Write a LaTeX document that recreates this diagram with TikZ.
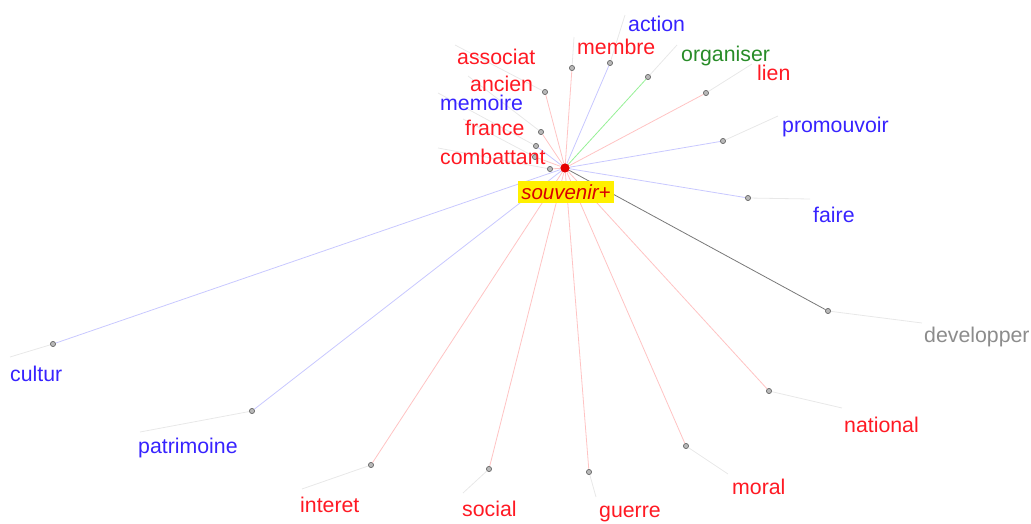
\documentclass[tikz,border=0pt]{standalone}
\usepackage{fontspec}
\setmainfont{Liberation Sans}
\definecolor{lred}{RGB}{255,25,35}
\definecolor{lblue}{RGB}{55,35,255}
\definecolor{lgreen}{RGB}{40,140,40}
\definecolor{lgray}{RGB}{140,140,140}
\definecolor{ered}{RGB}{255,195,195}
\definecolor{eblue}{RGB}{200,200,255}
\definecolor{egreen}{RGB}{150,240,150}
\definecolor{egray}{RGB}{120,120,120}
\definecolor{faint}{RGB}{232,232,232}
\definecolor{hl}{RGB}{255,240,0}
\tikzset{
  pt/.style={circle,inner sep=0pt,minimum size=5pt,fill=gray!55,draw=gray!85!black,line width=0.6pt},
  lab/.style={anchor=west,inner sep=0pt,font=\fontsize{21.3}{22}\selectfont},
  rl/.style={lab,text=lred},
  bl/.style={lab,text=lblue},
  gl/.style={lab,text=lgreen},
  yl/.style={lab,text=lgray},
  er/.style={draw=ered,line width=0.8pt},
  eb/.style={draw=eblue,line width=0.8pt},
  eg/.style={draw=egreen,line width=0.8pt},
  ek/.style={draw=egray,line width=0.8pt},
  ff/.style={draw=faint,line width=0.8pt},
}
\begin{document}
\begin{tikzpicture}[x=1pt,y=-1pt]
\useasboundingbox (0,0) rectangle (1031,524);
% word points
\node[pt] (pmembre) at (572,68) {};
\node[pt] (paction) at (610,63) {};
\node[pt] (porg) at (648,77) {};
\node[pt] (plien) at (706,93) {};
\node[pt] (passoc) at (545,92) {};
\node[pt] (pancien) at (541,132) {};
\node[pt] (pmemoire) at (536,146) {};
\node[pt] (pfrance) at (535,157) {};
\node[pt] (pcomb) at (550,169) {};
\node[pt] (ppromo) at (723,141) {};
\node[pt] (pfaire) at (748,198) {};
\node[pt] (pdev) at (828,311) {};
\node[pt] (pnat) at (769,391) {};
\node[pt] (pmoral) at (686,446) {};
\node[pt] (pguerre) at (589,472) {};
\node[pt] (psocial) at (489,469) {};
\node[pt] (pinteret) at (371,465) {};
\node[pt] (ppatri) at (252,411) {};
\node[pt] (pcultur) at (53,344) {};
% label anchors
\coordinate (cmembre) at (574,37);
\coordinate (caction) at (625,15);
\coordinate (corg) at (677,45);
\coordinate (clien) at (752,64);
\coordinate (cassoc) at (455,45);
\coordinate (cancien) at (468,76);
\coordinate (cmemoire) at (438,93);
\coordinate (cfrance) at (463,119);
\coordinate (ccomb) at (438,148);
\coordinate (cpromo) at (778,116);
\coordinate (cfaire) at (810,199);
\coordinate (cdev) at (922,323);
\coordinate (cnat) at (842,408);
\coordinate (cmoral) at (728,474);
\coordinate (cguerre) at (596,497);
\coordinate (csocial) at (463,493);
\coordinate (cinteret) at (302,489);
\coordinate (cpatri) at (140,432);
\coordinate (ccultur) at (10,357);
% faint label lines
\foreach \n in {membre,action,org,lien,assoc,ancien,memoire,france,comb,promo,faire,dev,nat,moral,guerre,social,interet,patri,cultur}
  \draw[ff] (p\n) -- (c\n);
% centre
\node[circle,inner sep=0pt,minimum size=9pt,fill=red!90!black] (c) at (565,168) {};
% edges
\draw[er] (c) -- (pmembre);
\draw[eb] (c) -- (paction);
\draw[eg] (c) -- (porg);
\draw[er] (c) -- (plien);
\draw[er] (c) -- (passoc);
\draw[er] (c) -- (pancien);
\draw[eb] (c) -- (pmemoire);
\draw[er] (c) -- (pfrance);
\draw[er] (c) -- (pcomb);
\draw[eb] (c) -- (ppromo);
\draw[eb] (c) -- (pfaire);
\draw[ek] (c) -- (pdev);
\draw[er] (c) -- (pnat);
\draw[er] (c) -- (pmoral);
\draw[er] (c) -- (pguerre);
\draw[er] (c) -- (psocial);
\draw[er] (c) -- (pinteret);
\draw[eb] (c) -- (ppatri);
\draw[eb] (c) -- (pcultur);
% redraw points on top
\foreach \n/\x/\y in {membre/572/68,action/610/63,org/648/77,lien/706/93,assoc/545/92,ancien/541/132,memoire/536/146,france/535/157,comb/550/169,promo/723/141,faire/748/198,dev/828/311,nat/769/391,moral/686/446,guerre/589/472,social/489/469,interet/371/465,patri/252/411,cultur/53/344}
  \node[pt] at (\x,\y) {};
\node[circle,inner sep=0pt,minimum size=9pt,fill=red!90!black] at (565,168) {};
% labels
\node[bl] (taction) at (628,24) {action};
\node[rl] (tmembre) at (577,47) {membre};
\node[rl] (tassoc) at (457,57) {associat};
\node[gl] (torg) at (681,56) {organiser};
\node[rl] (tlien) at (757,73) {lien};
\node[rl] (tancien) at (470,84) {ancien};
\node[bl] (tmemoire) at (440,103) {memoire};
\node[rl] (tfrance) at (465,128) {france};
\node[rl] (tcomb) at (440,157) {combattant};
\node[bl] (tpromo) at (782,127) {promouvoir};
\node[bl] (tfaire) at (813,215) {faire};
\node[yl] (tdev) at (924,337) {developper};
\node[rl] (tnat) at (844,425) {national};
\node[rl] (tmoral) at (732,487) {moral};
\node[rl] (tguerre) at (599,514) {guerre};
\node[rl] (tsocial) at (462,509) {social};
\node[rl] (tinteret) at (300,505) {interet};
\node[bl] (tpatri) at (138,448) {patrimoine};
\node[bl] (tcultur) at (10,374) {cultur};
% central label
\node[fill=hl,text=red!85!black,minimum width=96pt,minimum height=22pt,inner sep=0pt,font=\fontsize{20.5}{22}\selectfont\itshape] (tsouv) at (566,192) {souvenir+};
\end{tikzpicture}
\end{document}
